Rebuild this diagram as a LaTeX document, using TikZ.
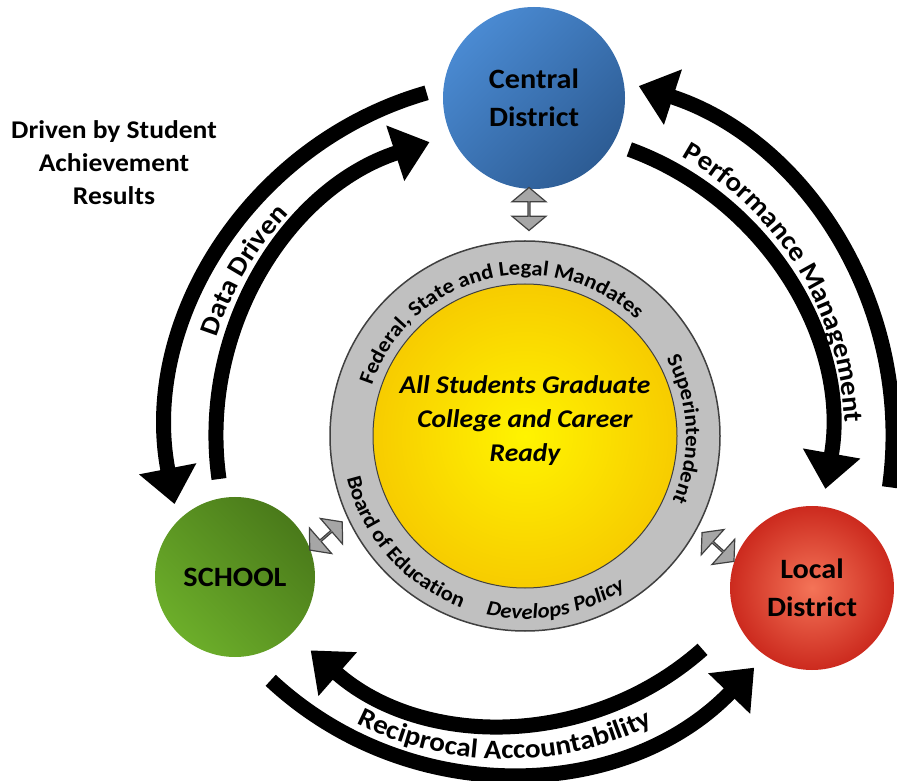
\documentclass[tikz,border=0pt]{standalone}
\usepackage{fontspec}
\setmainfont{Carlito}[FakeStretch=1.08]
\usetikzlibrary{arrows.meta,shapes.arrows,decorations.text}

\definecolor{blueL}{HTML}{4A8AD2}
\definecolor{blueD}{HTML}{2D5C94}
\definecolor{greenL}{HTML}{6CAE2A}
\definecolor{greenD}{HTML}{4A7A1A}
\definecolor{redL}{HTML}{F47458}
\definecolor{redD}{HTML}{CC2A1E}
\definecolor{sunL}{HTML}{FFF400}
\definecolor{sunD}{HTML}{F7CC00}
\definecolor{ringgray}{HTML}{C0C0C0}

\newcommand\officefont{\fontsize{28}{38}\selectfont\bfseries}
\newcommand\goalfont{\fontsize{25.5}{34}\selectfont\bfseries\itshape}
\newcommand\notefont{\fontsize{25.5}{33}\selectfont\bfseries}
\newcommand\arcfont{\fontsize{27}{30}\selectfont\bfseries}
\newcommand\ringfont{\fontsize{21}{24}\selectfont\bfseries}

\tikzset{
  office/.style={circle, minimum size=#1, inner sep=0pt, align=center, font=\officefont},
  bigarrow/.style={line width=15pt, -{Triangle[width=56pt,length=36pt]}},
  linkarrow/.style={shape=double arrow, draw=black!75, line width=1.2pt, fill=black!35,
    minimum height=43pt, minimum width=34pt, double arrow head extend=10pt,
    double arrow tip angle=100, inner sep=0pt},
  arclabel/.style={decorate, decoration={text along path, text align=center, text={#1}}},
}

\begin{document}
\begin{tikzpicture}[x=1pt, y=1pt]
  \useasboundingbox (0,0) rectangle (897,780);
  % centres of the big curved arrows
  \coordinate (hub) at (525,344);
  \coordinate (hubb) at (506,352);

  % the three offices
  \node[office=182, top color=blueL, bottom color=blueD, shading angle=45] (central) at (534,682) {Central\\District};
  \node[office=160, top color=greenD, bottom color=greenL, shading angle=-45] (school) at (235,203) {SCHOOL};
  \node[office=164, inner color=redL, outer color=redD] (local) at (812,192) {Local\\District};

  % rings in the middle
  \node[circle, minimum size=390, inner sep=0pt, fill=ringgray, draw=black!75, line width=1.5pt] (ring) at (525,344) {};
  \node[circle, minimum size=304, inner sep=0pt, inner color=sunL, outer color=sunD, draw=black!75, line width=1pt] (goal) at (ring.center) {};
  \node[font=\goalfont, align=center] (goaltext) at (525,359) {All Students Graduate\\College and Career\\Ready};

  \path[arclabel={|\ringfont|Federal, State and Legal Mandates}] (ring.center) ++(179:161) arc[start angle=179, end angle=29, radius=161];
  \path[arclabel={|\ringfont|Superintendent}] (ring.center) ++(62:161) arc[start angle=62, end angle=-57, radius=161];
  \path[arclabel={|\ringfont|Board of Education}] (ring.center) ++(181:183) arc[start angle=181, end angle=262, radius=183];
  \path[arclabel={|\ringfont\itshape|Develops Policy}] (ring.center) ++(240:183) arc[start angle=240, end angle=321, radius=183];

  % links between offices and the rings
  \node[linkarrow, rotate=90] (linkc) at (529,571) {};
  \node[linkarrow, rotate=41] (links) at (326,244) {};
  \node[linkarrow, rotate=-42] (linkl) at (718,233) {};

  % big arrows
  \draw[bigarrow] (hub) ++(106:357) arc[start angle=106, end angle=191, radius=357];
  \draw[bigarrow] (hub) ++(188:309) arc[start angle=188, end angle=108, radius=309];
  \draw[bigarrow] (hub) ++(-8:368) arc[start angle=-8, end angle=72, radius=368];
  \draw[bigarrow] (hub) ++(70:305) arc[start angle=70, end angle=-10, radius=305];
  \draw[bigarrow] (hubb) ++(227:345) arc[start angle=227, end angle=316, radius=345];
  \draw[bigarrow] (hubb) ++(311.6:296) arc[start angle=311.6, end angle=228.7, radius=296];

  \path[arclabel={|\arcfont|Data Driven}] (hub) ++(175:324) arc[start angle=175, end angle=124, radius=324];
  \path[arclabel={|\arcfont|Performance Management}] (hub) ++(75:320) arc[start angle=75, end angle=-12, radius=320];
  \path[arclabel={|\arcfont|Reciprocal Accountability}] (hubb) ++(225:331) arc[start angle=225, end angle=314.5, radius=331];

  \node[font=\notefont, align=center] (note) at (114,617) {Driven by Student\\Achievement\\Results};
\end{tikzpicture}
\end{document}
